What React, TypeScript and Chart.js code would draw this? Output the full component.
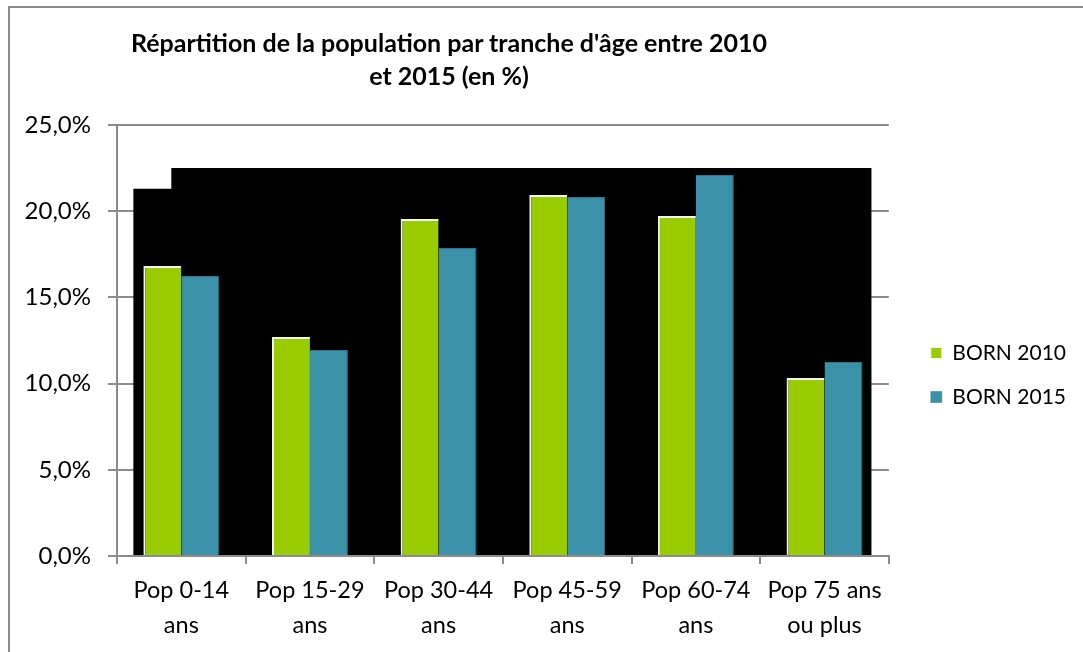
import React, { useEffect, useRef } from "react";
import { Chart, registerables } from "chart.js";

Chart.register(...registerables);

const categories: string[][] = [
  ["Pop 0-14", "ans"],
  ["Pop 15-29", "ans"],
  ["Pop 30-44", "ans"],
  ["Pop 45-59", "ans"],
  ["Pop 60-74", "ans"],
  ["Pop 75 ans", "ou plus"],
];
const born2010: number[] = [16.82, 12.7, 19.55, 20.94, 19.72, 10.33];
const born2015: number[] = [16.24, 11.95, 17.87, 20.83, 22.1, 11.25];
const seriesNames: string[] = ["BORN 2010", "BORN 2015"];
const yTicks: number[] = [0, 5, 10, 15, 20, 25];
const titleLines: string[] = [
  "Répartition de la population par tranche d'âge entre 2010",
  "et 2015 (en %)",
];

// backdrop block behind the bars (levels in axis units)
const BACKDROP_TOP = 22.5;
const BACKDROP_TOP_LEFT = 21.3;

const FONT = "Lato, 'Open Sans', sans-serif";
const GREY = "#8c8c8c";
const GREEN = "#99cc00";
const BLUE = "#3a91a8";

const backdropPlugin = {
  id: "backdrop",
  beforeDatasetsDraw(chart: any) {
    const y = chart.scales.y;
    const m0 = chart.getDatasetMeta(0);
    const m1 = chart.getDatasetMeta(1);
    if (!m0.data.length || !m1.data.length) return;
    const first = m0.data[0];
    const last = m1.data[m1.data.length - 1];
    const left = first.x - first.width / 2 - 10;
    const right = last.x + last.width / 2 + 9;
    const step = chart.scales.x.getPixelForValue(0) - 10;
    const topMain = y.getPixelForValue(BACKDROP_TOP);
    const topLeft = y.getPixelForValue(BACKDROP_TOP_LEFT);
    const bottom = y.getPixelForValue(0) - 1;
    const ctx = chart.ctx;
    ctx.save();
    ctx.fillStyle = "#000";
    ctx.beginPath();
    ctx.moveTo(left, bottom);
    ctx.lineTo(left, topLeft);
    ctx.lineTo(step, topLeft);
    ctx.lineTo(step, topMain);
    ctx.lineTo(right, topMain);
    ctx.lineTo(right, bottom);
    ctx.closePath();
    ctx.fill();
    ctx.restore();
  },
};

const hiddenSpacer = (size: number, vertical: boolean) => ({
  type: "linear",
  display: true,
  afterFit: (s: any) => {
    if (vertical) s.width = size;
    else s.height = size;
  },
  grid: { display: false, drawTicks: false },
  border: { display: false },
  ticks: { display: false },
});

export default function App() {
  const ref = useRef<HTMLCanvasElement>(null);

  useEffect(() => {
    if (!ref.current) return;
    const chart = new Chart(ref.current, {
      type: "bar",
      data: {
        labels: categories,
        datasets: [
          {
            label: seriesNames[0],
            data: born2010,
            backgroundColor: GREEN,
            borderColor: "#f4f4f4",
            borderWidth: { left: 2, top: 2, right: 0, bottom: 0 },
            borderSkipped: false,
            categoryPercentage: 0.59,
            barPercentage: 1,
          },
          {
            label: seriesNames[1],
            data: born2015,
            backgroundColor: BLUE,
            borderColor: "#2d7487",
            borderWidth: { left: 0, top: 1, right: 1, bottom: 0 },
            borderSkipped: false,
            categoryPercentage: 0.59,
            barPercentage: 1,
          },
        ],
      },
      options: {
        responsive: false,
        animation: false,
        events: [],
        layout: { padding: { top: 98, bottom: 0, left: 0, right: 7 } },
        plugins: {
          title: { display: false },
          tooltip: { enabled: false },
          legend: {
            position: "right",
            labels: {
              boxWidth: 11,
              boxHeight: 11,
              padding: 23,
              color: "#000",
              font: { family: FONT, size: 21 },
            },
          },
        },
        scales: {
          x: {
            afterFit: (s: any) => {
              s.height = 96;
            },
            grid: {
              drawOnChartArea: false,
              drawTicks: true,
              tickLength: 8,
              color: GREY,
              lineWidth: 2,
              offset: true,
            },
            border: { color: GREY, width: 2 },
            ticks: {
              color: "#000",
              padding: 9,
              maxRotation: 0,
              autoSkip: false,
              font: { family: FONT, size: 23.5, lineHeight: 1.49 },
            },
          },
          y: {
            min: 0,
            max: 25,
            afterFit: (s: any) => {
              s.width = 117;
            },
            afterBuildTicks: (s: any) => {
              s.ticks = yTicks.map((v) => ({ value: v }));
            },
            grid: {
              color: GREY,
              lineWidth: 2,
              tickLength: 9,
            },
            border: { color: GREY, width: 2 },
            ticks: {
              color: "#000",
              padding: 17,
              font: { family: FONT, size: 24 },
              callback: (v: any) => Number(v).toFixed(1).replace(".", ",") + "%",
            },
          },
          gapRight: { ...hiddenSpacer(19, true), position: "right" },
          gapTop: { ...hiddenSpacer(27, false), position: "top" },
        },
      } as any,
      plugins: [backdropPlugin],
    });
    return () => chart.destroy();
  }, []);

  return (
    <div
      style={{
        position: "fixed",
        left: 0,
        top: 0,
        width: 1083,
        height: 652,
        overflow: "hidden",
        background: "#fff",
      }}
    >
      <div
        style={{
          position: "absolute",
          left: 8,
          top: 6,
          width: 1200,
          height: 800,
          borderLeft: `2px solid ${GREY}`,
          borderTop: `2px solid ${GREY}`,
        }}
      />
      <canvas
        ref={ref}
        width={1083}
        height={652}
        style={{ position: "absolute", left: 0, top: 0 }}
      />
      <div
        style={{
          position: "absolute",
          left: 49,
          top: 26,
          width: 800,
          textAlign: "center",
          fontFamily: FONT,
          fontWeight: 700,
          fontSize: 25,
          lineHeight: "33px",
          color: "#000",
        }}
      >
        {titleLines.map((t, i) => (
          <div key={i}>{t}</div>
        ))}
      </div>
    </div>
  );
}
